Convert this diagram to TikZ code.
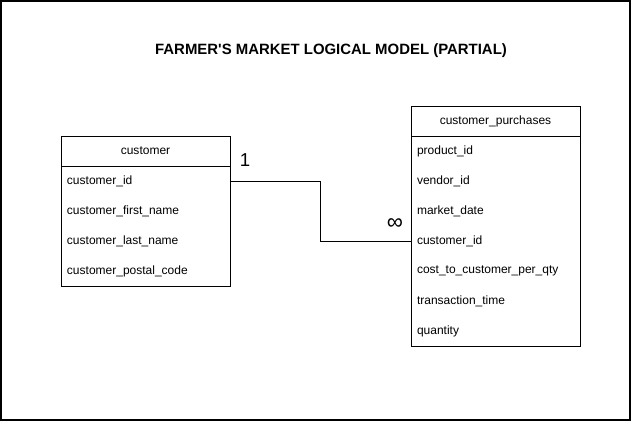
\documentclass[tikz,border=0pt]{standalone}
\usepackage{fontspec}
\setmainfont{Liberation Sans}
\usetikzlibrary{matrix,positioning}
\tikzset{
	tblhead/.style={draw, line width=0.75pt, minimum width=126.75pt, minimum height=22.5pt, inner sep=0pt, font=\fontsize{9}{11}\selectfont},
	tblrow/.style={minimum height=22.5pt, text width=117.75pt, inner xsep=4.5pt, inner ysep=0pt, align=left, font=\fontsize{9}{11}\selectfont},
	tblbody/.style={matrix of nodes, draw, line width=0.75pt, inner sep=0pt, row sep=0pt, nodes=tblrow},
	card/.style={font=\fontsize{14}{16}\selectfont}
}
\begin{document}
\begin{tikzpicture}[x=0.75pt, y=-0.75pt]
	\useasboundingbox (0,0) rectangle (631,421);
	\draw[line width=1.5pt] (1,1) rectangle (630,420);
	
	\node[font=\bfseries\fontsize{11.2}{13}\selectfont] (title) at (331,51) {FARMER\textquotesingle S MARKET LOGICAL MODEL (PARTIAL)};
	
	% customer table
	\node[tblhead] (customer) at (145.5,151) {customer};
	\matrix (cust)[tblbody, below=-0.75pt of customer]{
		customer\_id \\ %cust-1-1
		customer\_first\_name \\ %cust-2-1
		customer\_last\_name \\ %cust-3-1
		customer\_postal\_code \\ %cust-4-1
	};
	
	% customer_purchases table
	\node[tblhead] (purchases) at (495.5,121) {customer\_purchases};
	\matrix (purch)[tblbody, below=-0.75pt of purchases]{
		product\_id \\ %purch-1-1
		vendor\_id \\ %purch-2-1
		market\_date \\ %purch-3-1
		customer\_id \\ %purch-4-1
		cost\_to\_customer\_per\_qty \\ %purch-5-1
		transaction\_time \\ %purch-6-1
		quantity \\ %purch-7-1
	};
	
	% relationship
	\coordinate (bend) at (320,181);
	\draw[line width=0.75pt] (cust-1-1.east) -- (cust-1-1.east -| bend) |- (purch-4-1.west);
	\node[card] (one) at (245,160) {1};
	\node[font=\fontsize{17}{18}\selectfont] (many) at (395,224) {∞};
\end{tikzpicture}
\end{document}
